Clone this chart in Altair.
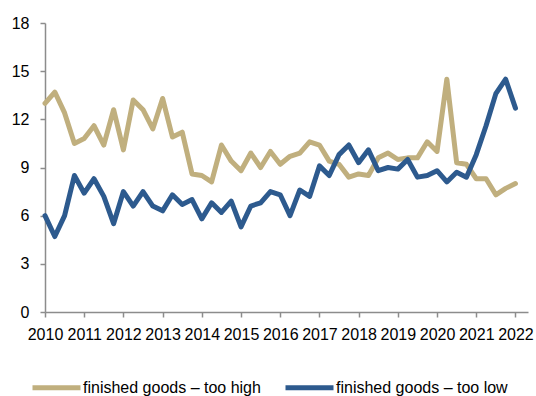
import altair as alt
import pandas as pd

years = [2010, 2011, 2012, 2013, 2014, 2015, 2016, 2017, 2018, 2019, 2020, 2021, 2022]
series_names = ["finished goods – too high", "finished goods – too low"]

too_high = [
    13.0, 13.7, 12.4, 10.5,
    10.8, 11.6, 10.4, 12.6,
    10.1, 13.2, 12.6, 11.4,
    13.3, 10.9, 11.2, 8.6,
    8.5, 8.1, 10.4, 9.4,
    8.8, 9.9, 9.0, 10.0,
    9.2, 9.7, 9.9, 10.6,
    10.4, 9.4, 9.2, 8.4,
    8.6, 8.5, 9.6, 9.9,
    9.5, 9.6, 9.6, 10.6,
    10.0, 14.5, 9.3, 9.2,
    8.3, 8.3, 7.3, 7.7,
    8.0,
]

too_low = [
    6.0, 4.7, 6.0, 8.5,
    7.4, 8.3, 7.2, 5.5,
    7.5, 6.6, 7.5, 6.6,
    6.3, 7.3, 6.7, 7.0,
    5.8, 6.8, 6.2, 6.9,
    5.3, 6.6, 6.8, 7.5,
    7.3, 6.0, 7.6, 7.2,
    9.1, 8.5, 9.8, 10.4,
    9.3, 10.1, 8.8, 9.0,
    8.9, 9.5, 8.4, 8.5,
    8.8, 8.1, 8.7, 8.4,
    9.8, 11.6, 13.6, 14.5,
    12.7,
]

rows = []
for name, vals in zip(series_names, [too_high, too_low]):
    for i, v in enumerate(vals):
        rows.append({"t": 2010 + i / 4, "value": v, "series": name})
df = pd.DataFrame(rows)

font = "Liberation Sans"

chart = (
    alt.Chart(df)
    .mark_line(strokeWidth=5, strokeJoin="round", strokeCap="round")
    .encode(
        x=alt.X(
            "t:Q",
            scale=alt.Scale(domain=[2010, 2022.32], nice=False, zero=False),
            axis=alt.Axis(
                values=years,
                format="d",
                title=None,
                grid=False,
                domainColor="#8c8c8c",
                tickColor="#8c8c8c",
                tickSize=5,
                domainWidth=1.5,
                tickWidth=1.5,
                labelFont=font,
                labelFontSize=16,
                labelColor="#000000",
                labelPadding=9,
                labelOverlap=False,
                labelFlush=False,
            ),
        ),
        y=alt.Y(
            "value:Q",
            scale=alt.Scale(domain=[0, 18], nice=False),
            axis=alt.Axis(
                values=[0, 3, 6, 9, 12, 15, 18],
                title=None,
                grid=False,
                domainColor="#8c8c8c",
                tickColor="#8c8c8c",
                tickSize=5,
                domainWidth=1.5,
                tickWidth=1.5,
                labelFont=font,
                labelFontSize=16,
                labelColor="#000000",
                labelPadding=11,
            ),
        ),
        color=alt.Color(
            "series:N",
            scale=alt.Scale(domain=series_names, range=["#C0AF7E", "#2D5A8E"]),
            legend=alt.Legend(
                title=None,
                orient="none",
                legendX=-15,
                legendY=338,
                direction="horizontal",
                symbolType="stroke",
                symbolSize=2304,
                symbolStrokeWidth=5,
                labelFont=font,
                labelFontSize=16,
                labelColor="#000000",
                labelOffset=0,
                columnPadding=14,
                labelLimit=300,
            ),
        ),
    )
    .properties(
        width=483,
        height=289,
        autosize=alt.AutoSizeParams(type="none"),
        padding={"left": 45, "top": 23, "right": 8, "bottom": 84},
    )
    .configure_view(stroke=None)
)

chart.save("out.html", embed_options={"renderer": "svg", "actions": False})
